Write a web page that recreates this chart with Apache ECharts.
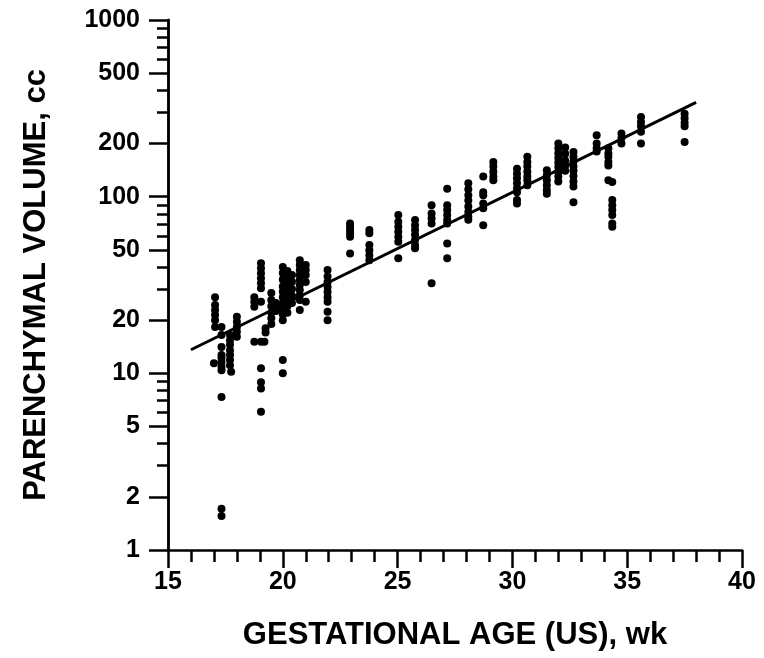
<!DOCTYPE html>
<html><head><meta charset="utf-8">
<script src="https://cdn.jsdelivr.net/npm/echarts@6/dist/echarts.min.js"></script>
<style>html,body{margin:0;padding:0;background:#fff}#c{width:764px;height:658px}</style>
</head><body><div id="c"></div>
<script>
// Measured points: gestational age (weeks) and parenchymal volume (cc)
const ages = [
  17.05,17.05,17.05,17.05,17.05,17.05,17.0,
  17.33,17.33,17.33,17.33,17.33,17.33,17.33,17.33,17.33,17.33,17.33,
  17.7,17.7,17.7,17.7,17.7,17.7,17.7,17.75,
  18.0,18.0,18.0,18.0,18.0,
  18.76,18.76,18.76,18.76,
  19.05,19.05,19.05,19.05,19.05,19.05,19.05,19.05,19.05,19.05,19.05,19.05,
  19.25,19.25,19.2,
  19.5,19.5,19.5,19.5,19.5,19.5,
  19.7,19.7,
  20.0,20.0,20.0,20.0,20.0,20.0,20.0,20.0,20.0,20.0,20.0,20.0,
  20.2,20.2,20.2,20.2,20.2,20.2,20.2,20.2,
  20.4,20.4,20.4,20.4,20.4,
  20.74,20.74,20.74,20.74,20.74,20.74,20.74,20.74,20.74,20.74,
  21.0,21.0,21.0,21.0,21.0,
  21.95,21.95,21.95,21.95,21.95,21.95,21.95,21.95,21.95,
  22.93,22.93,22.93,22.93,22.93,22.93,
  23.77,23.77,23.77,23.77,23.77,23.77,
  25.03,25.03,25.03,25.03,25.03,25.03,25.03,
  25.76,25.76,25.76,25.76,25.76,25.76,25.76,
  26.48,26.48,26.48,26.48,26.48,
  27.16,27.16,27.16,27.16,27.16,27.16,27.16,27.16,
  28.08,28.08,28.08,28.08,28.08,28.08,28.08,28.08,
  28.73,28.73,28.73,28.73,28.73,28.73,
  29.17,29.17,29.17,29.17,29.17,
  30.2,30.2,30.2,30.2,30.2,30.2,30.2,30.2,
  30.65,30.65,30.65,30.65,30.65,30.65,30.65,
  31.5,31.5,31.5,31.5,31.5,31.5,
  32.0,32.0,32.0,32.0,32.0,32.0,32.0,32.0,32.0,
  32.3,32.3,32.3,32.3,32.3,
  32.66,32.66,32.66,32.66,32.66,32.66,32.66,32.66,32.66,
  33.67,33.67,33.67,33.67,
  34.18,34.18,34.18,34.18,34.18,34.18,
  34.35,34.35,34.35,34.35,34.35,34.35,34.35,
  34.75,34.75,34.75,
  35.6,35.6,35.6,35.6,35.6,
  37.5,37.5,37.5,37.5,37.5
];
const volumes = [
  27,24.4,22.8,21.4,20,18.3,11.4,
  18.3,16.5,14.1,12.7,12.2,11.6,10.9,10.4,7.35,1.71,1.56,
  16.5,15.4,14.5,13.5,12.7,11.9,11.1,10.2,
  20.9,19.6,18.3,17.2,16.1,
  27,25.4,23.8,15.1,
  42,39.3,36.8,34.5,32.4,30.3,25.4,15.1,10.7,8.9,8.2,6.07,
  18,17,15.1,
  28.5,26,24,22,20.5,19,
  25,22.5,
  40,37,34,31,29,27,25,23,21.5,20,11.9,10.0,
  38,35,32,30,28,26,24,22,
  36,33,30,27.5,25,
  43.6,41,38.4,36,33.7,31.6,29.6,27.7,26,22.8,
  41,38.4,36,32.9,25.4,
  38.4,35.3,32.9,30.8,28.9,27,25.4,22.3,20,
  70.6,67.6,64.8,62,59.3,47.6,
  64.8,62,53.3,49.8,46.6,43.6,
  78.7,72.1,67.6,63.3,59.3,55.6,44.8,
  73.8,69,64.8,60.8,57,53.3,51,
  89.3,80.3,75.4,70.6,32.4,
  111,89.3,84,78.7,73.8,70.6,54.4,44.8,
  119,110,102,95,88,82,77,74,
  130,106,102,91.5,86,69,
  157,148,138.5,130,124,
  144,135,127,119,111.6,106,95.7,91.5,
  168,157,148,138.5,130,124,116,
  141,132,124,116,109,104,
  200,188,176,166,156,147,138,130,122,
  190,175,160,150,140,
  179,168,158,148,140,131,122,114,93,
  223,200,188,180,
  188,176,168,157,150,124,
  121,95.7,89.3,84,78.7,70.6,67.6,
  228,215,200,
  282,265,250,233,200,
  295,278,262,250,204
];
// Regression line end points
const fitAges = [16, 38];
const fitVolumes = [13.6, 342];
// Axis ticks
const xTicks = [15, 20, 25, 30, 35, 40];
const yMajorTicks = [1, 2, 5, 10, 20, 50, 100, 200, 500, 1000];
const yMinorTicks = [3,4,6,7,8,9,30,40,60,70,80,90,300,400,600,700,800,900];
const xTitle = 'GESTATIONAL AGE (US), wk';
const yTitle = 'PARENCHYMAL VOLUME, cc';

const FONT = '"Liberation Sans", Arial, Helvetica, sans-serif';
const chart = echarts.init(document.getElementById('c'), null, {renderer: 'canvas'});
const lineStyle = {color: '#000', width: 2.5};
chart.setOption({
  animation: false,
  backgroundColor: '#fff',
  grid: {left: 168, right: 22, top: 20, bottom: 108, containLabel: false},
  xAxis: {
    type: 'value', min: xTicks[0], max: xTicks[xTicks.length - 1], interval: 5,
    axisLine: {onZero: false, lineStyle: lineStyle},
    axisTick: {length: 18, lineStyle: lineStyle},
    minorTick: {show: true, splitNumber: 5, length: 12, lineStyle: lineStyle},
    splitLine: {show: false},
    axisLabel: {color: '#000', fontFamily: FONT, fontWeight: 'bold', fontSize: 25, margin: 20},
    name: xTitle, nameLocation: 'middle', nameGap: 70,
    nameTextStyle: {color: '#000', fontFamily: FONT, fontWeight: 'bold', fontSize: 31}
  },
  yAxis: [{
    type: 'log', logBase: 10, min: 1, max: 1000,
    axisLine: {lineStyle: lineStyle},
    axisTick: {length: 19, lineStyle: lineStyle, customValues: yMajorTicks},
    splitLine: {show: false},
    axisLabel: {color: '#000', fontFamily: FONT, fontWeight: 'bold', fontSize: 25, margin: 28,
      customValues: yMajorTicks, formatter: v => String(v)},
    name: yTitle, nameLocation: 'middle', nameGap: 116, nameRotate: 90,
    nameTextStyle: {color: '#000', fontFamily: FONT, fontWeight: 'bold', fontSize: 31}
  }, {
    type: 'log', logBase: 10, min: 1, max: 1000, position: 'left',
    axisLine: {show: true, lineStyle: lineStyle},
    axisTick: {length: 11, lineStyle: lineStyle, customValues: yMinorTicks},
    axisLabel: {show: false},
    splitLine: {show: false}
  }],
  series: [{
    type: 'scatter', yAxisIndex: 0,
    data: ages.map((a, i) => [a, volumes[i]]),
    symbol: 'circle', symbolSize: 8,
    itemStyle: {color: '#000', opacity: 1}
  }, {
    type: 'line', yAxisIndex: 0,
    data: fitAges.map((a, i) => [a, fitVolumes[i]]),
    showSymbol: false, symbol: 'none',
    lineStyle: {color: '#000', width: 3}
  }]
});
</script></body></html>
